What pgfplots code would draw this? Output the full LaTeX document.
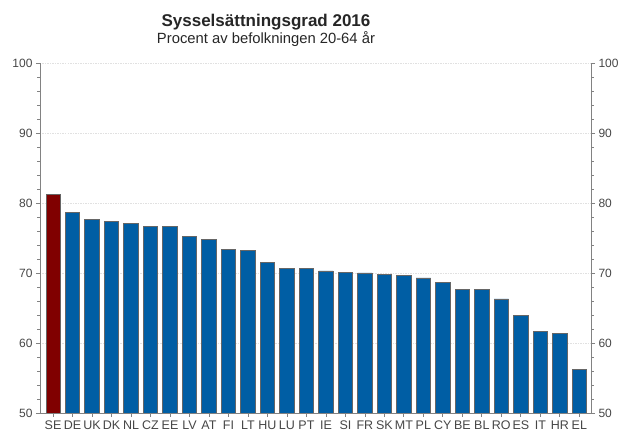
\documentclass[border=0pt]{standalone}
\usepackage{pgfplots}
\pgfplotsset{compat=1.18}
\usepackage{fontspec}
\setmainfont{Liberation Sans}

\definecolor{barblue}{RGB}{0,94,164}
\definecolor{barred}{RGB}{128,0,0}
\definecolor{axisgray}{RGB}{130,130,130}
\definecolor{gridgray}{RGB}{225,225,225}
\definecolor{textgray}{RGB}{70,70,70}

\pgfplotsset{
  empaxis/.style={
    at={(40pt,22pt)}, anchor=south west,
    width=551pt, height=350pt, scale only axis,
    xmin=-0.67, xmax=27.6, ymin=50, ymax=100,
    ytick={50,60,...,100}, minor y tick num=4,
    axis line style={draw=axisgray, line width=0.8pt},
    tick style={draw=axisgray, line width=0.8pt},
    tick align=outside, major tick length=4pt, minor tick length=2.5pt,
    yticklabel style={font=\fontsize{12}{12}\selectfont, text=textgray},
    /pgf/number format/assume math mode=true,
  },
}

\begin{document}
\begin{tikzpicture}[x=1pt,y=1pt]
\useasboundingbox (0,0) rectangle (618,435);
\node[font=\fontsize{17}{20}\selectfont\bfseries, text=black!85, anchor=base] at (266,408) {Sysselsättningsgrad 2016};
\node[font=\fontsize{14.8}{16}\selectfont, text=black!85, anchor=base] at (266,391) {Procent av befolkningen 20-64 år};

\begin{axis}[
  empaxis,
  ybar, bar width=14.5pt, bar shift=0pt,
  axis x line*=bottom, axis y line*=left,
  xtick={0,...,27},
  xticklabels={SE,DE,UK,DK,NL,CZ,EE,LV,AT,FI,LT,HU,LU,PT,IE,SI,FR,SK,MT,PL,CY,BE,BL,RO,ES,IT,HR,EL},
  xticklabel style={font=\fontsize{12.5}{12.5}\selectfont, text=textgray},
  ymajorgrids, grid style={draw=gridgray, dash pattern=on 1.5pt off 1pt},
]
  % Sverige
  \addplot[fill=barred, draw=black!60, line width=0.6pt] coordinates {(0,81.2)};
  % övriga länder
  \addplot[fill=barblue, draw=black!60, line width=0.6pt] coordinates {
    (1,78.7) (2,77.6) (3,77.4) (4,77.1) (5,76.7) (6,76.6) (7,75.2)
    (8,74.8) (9,73.4) (10,73.2) (11,71.5) (12,70.7) (13,70.6) (14,70.3)
    (15,70.1) (16,70.0) (17,69.8) (18,69.7) (19,69.3) (20,68.7) (21,67.7)
    (22,67.7) (23,66.3) (24,63.9) (25,61.6) (26,61.4) (27,56.2)
  };
\end{axis}

\begin{axis}[
  empaxis,
  axis x line=none, axis y line*=right,
]
  \addplot[draw=none] coordinates {(0,50)};
\end{axis}
\end{tikzpicture}
\end{document}
